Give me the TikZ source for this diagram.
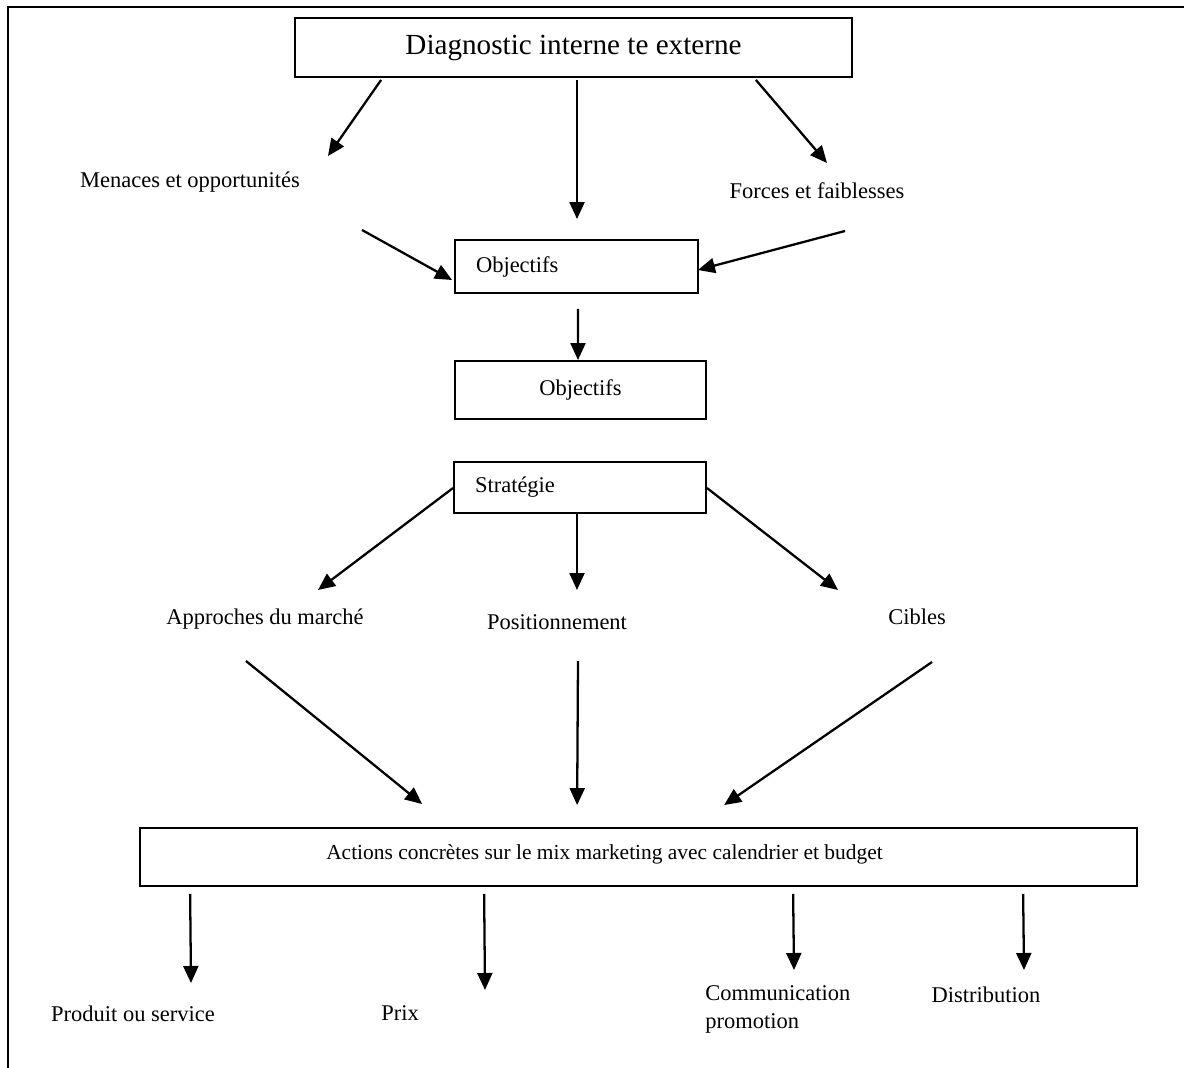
\documentclass[tikz,border=0pt]{standalone}
\usepackage{fontspec}
\setmainfont{Liberation Serif}
\usetikzlibrary{arrows.meta, calc}
\usetikzlibrary{positioning}

\tikzset{
  box/.style={draw, line width=1.1pt, inner sep=0pt},
  lbl/.style={font=\fontsize{12.8}{15.4}\selectfont, inner sep=0pt},
  arr/.style={line width=1.3pt, -{Triangle[length=0.34cm, width=0.3cm]}}
}

\begin{document}
\begin{tikzpicture}[x=0.02cm, y=-0.02cm]
    \useasboundingbox (0,0) rectangle (1184,1068);
    \draw[line width=1.2pt] (8,1068) -- (8,7) -- (1184,7);

    \node[box, minimum width=11.14cm, minimum height=1.18cm, font=\fontsize{16.6}{20}\selectfont] at (573.5,47.5) (diag) {Diagnostic interne te externe};
	\node[lbl] at (190,182) (menaces) {Menaces et opportunités};
	\node[lbl] at (817,191) (forces) {Forces et faiblesses};
    \node[box, lbl, draw, minimum width=4.86cm, minimum height=1.06cm, text width=4.02cm, inner xsep=0.42cm, align=left] at (576.5,266.5) (obj1) {Objectifs};
    \node[box, lbl, draw, minimum width=5.02cm, minimum height=1.16cm, align=center] at (580.5,390) (obj2) {Objectifs};
    \node[box, lbl, draw, minimum width=5.04cm, minimum height=1.02cm, text width=4.2cm, inner xsep=0.42cm, align=left] at (580,487.5) (strat) {Stratégie};
	\node[lbl] at (265,619) (approches) {Approches du marché};
	\node[lbl] at (557,622) (position) {Positionnement};
	\node[lbl] at (917,617) (cibles) {Cibles};
    \node[box, minimum width=19.94cm, minimum height=1.16cm] at (638.5,857) (actions) {};
	\node[lbl, font=\fontsize{12.2}{14.6}\selectfont] at (604.5,854) (actionstxt) {Actions concrètes sur le mix marketing avec calendrier et budget};
	\node[lbl] at (133,1014) (produit) {Produit ou service};
	\node[lbl] at (400,1013) (prix) {Prix};
	\node[lbl, align=left, anchor=west, font=\fontsize{12.8}{15.9}\selectfont] at (705,1009) (comm) {Communication\\promotion};
	\node[lbl] at (986,995) (distrib) {Distribution};

	\draw[arr] ($(diag.south west)+(87,2)$) -- ($(menaces)+(138,-26)$);
	\draw[arr] ($(diag.south)+(3.5,2)$) -- ($(obj1.north)+(0.5,-20)$);
	\draw[arr] ($(diag.south east)+(-97,2)$) -- ($(forces)+(10,-28)$);
	\draw[arr] ($(menaces)+(172,48)$) -- ($(obj1.west)+(-2,13.5)$);
	\draw[arr] ($(forces)+(28,40)$) -- ($(obj1.east)+(-1,3.5)$);
	\draw[arr] ($(obj1.south)+(1.5,15)$) -- ($(obj2.north)+(-2.5,0)$);
	\draw[arr] ($(strat.west)+(0,0.5)$) -- ($(approches)+(53,-29)$);
	\draw[arr] ($(strat.south)+(-3,0)$) -- ($(position)+(20,-32)$);
	\draw[arr] ($(strat.east)+(0,0.5)$) -- ($(cibles)+(-79,-27)$);
	\draw[arr] ($(approches)+(-19,42)$) -- ($(actions.north west)+(283,-23)$);
	\draw[arr] ($(position)+(21,39)$) -- ($(actions.north west)+(438,-22)$);
	\draw[arr] ($(cibles)+(15,45)$) -- ($(actions.north west)+(585,-22)$);
	\draw[arr] ($(actions.south west)+(51,7)$) -- ($(produit)+(58,-31)$);
	\draw[arr] ($(actions.south west)+(345,7)$) -- ($(prix)+(85,-23)$);
	\draw[arr] ($(actions.south west)+(654,7)$) -- ($(comm.west)+(89,-39)$);
	\draw[arr] ($(actions.south west)+(884,7)$) -- ($(distrib)+(38,-25)$);
    \end{tikzpicture}
\end{document}
